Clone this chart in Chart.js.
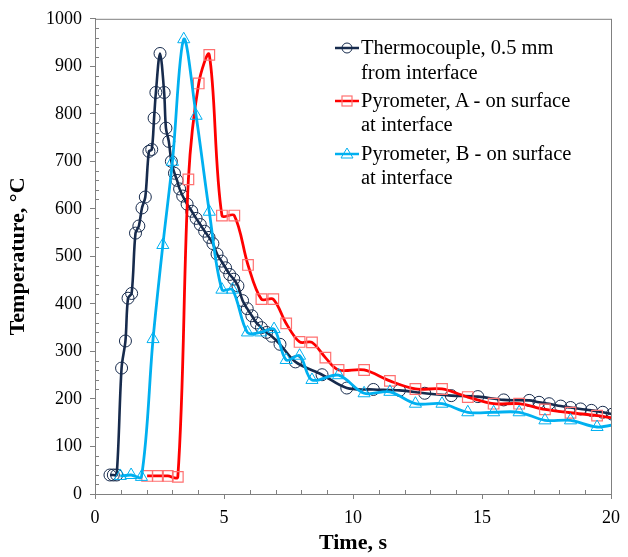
<!DOCTYPE html>
<html>
<head>
<meta charset="utf-8">
<script src="https://cdn.jsdelivr.net/npm/chart.js@4"></script>
<style>
  html, body { margin: 0; padding: 0; background: #fff; }
  #wrap { position: relative; width: 628px; height: 557px; }
  #legend {
    position: absolute; left: 335px; top: 35px;
    font-family: 'Liberation Serif', 'Times New Roman', serif;
    font-size: 20.5px; line-height: 24.5px; color: #000;
  }
  .item { display: flex; align-items: flex-start; margin-bottom: 3.8px; }
  .item svg { flex: none; }
</style>
</head>
<body>
<div id="wrap">
  <canvas id="tempChart" width="628" height="557"></canvas>
  <div id="legend">
    <div class="item">
      <svg width="26" height="24"><line x1="0" y1="13" x2="24" y2="13" stroke="#172b4d" stroke-width="2.5"/><circle cx="12" cy="13" r="5" fill="none" stroke="#172b4d" stroke-width="1"/></svg>
      <div>Thermocouple, 0.5 mm<br>from interface</div>
    </div>
    <div class="item">
      <svg width="26" height="24"><line x1="0" y1="13" x2="24" y2="13" stroke="#ff0000" stroke-width="2.5"/><rect x="7" y="8" width="10" height="10" fill="none" stroke="#ff7070" stroke-width="1.2"/></svg>
      <div>Pyrometer, A - on surface<br>at interface</div>
    </div>
    <div class="item">
      <svg width="26" height="24"><line x1="0" y1="13" x2="24" y2="13" stroke="#00b0f0" stroke-width="2.5"/><polygon points="12,7 18,17 6,17" fill="none" stroke="#00b0f0" stroke-width="1"/></svg>
      <div>Pyrometer, B - on surface<br>at interface</div>
    </div>
  </div>
</div>
<script>
// thermocouple, 0.5 mm from interface
const tcTime = [0.58, 0.71, 0.84, 1.03, 1.18, 1.28, 1.42, 1.57, 1.70, 1.82, 1.95, 2.09, 2.20, 2.29, 2.36, 2.52,
  2.68, 2.75, 2.86, 2.96, 3.08, 3.18, 3.28, 3.40, 3.57, 3.75, 3.92, 4.08, 4.25, 4.42, 4.57, 4.73, 4.90,
  5.06, 5.22, 5.38, 5.54, 5.72, 5.90, 6.08, 6.26, 6.45, 6.65, 6.85, 7.17, 7.77, 8.80, 9.76, 10.79, 11.80,
  12.78, 13.81, 14.84, 15.84, 16.83, 17.21, 17.60, 18.05, 18.43, 18.82, 19.24, 19.68, 20.05];
const tcTemp = [40, 40, 40, 265, 322, 412, 422, 549, 564, 602, 625, 721, 725, 791, 845, 927,
  845, 770, 742, 700, 675, 660, 642, 627, 610, 595, 580, 567, 553, 540, 527, 505, 490,
  476, 462, 452, 438, 407, 390, 375, 360, 350, 340, 332, 315, 278, 251, 223, 220, 218,
  212, 207, 205, 198, 197, 193, 190, 185, 182, 179, 176, 172, 168];

// pyrometer A
const pyroATime = [2.02, 2.44, 2.82, 3.21, 3.62, 4.02, 4.43, 4.92, 5.40, 5.93, 6.45, 6.91, 7.41, 7.93, 8.41,
  8.93, 9.44, 10.43, 11.43, 12.42, 13.45, 14.45, 15.45, 16.44, 17.44, 18.43, 19.46, 20.3];
const pyroATemp = [38, 38, 38, 36, 662, 864, 924, 586, 586, 482, 410, 410, 359, 320, 319,
  287, 261, 261, 238, 221, 221, 204, 190, 190, 178, 171, 165, 158];

// pyrometer B
const pyroBTime = [0.98, 1.40, 1.80, 2.25, 2.63, 3.00, 3.44, 3.92, 4.43, 4.92, 5.33, 5.91, 6.42, 6.94, 7.41,
  7.93, 8.41, 9.44, 10.43, 11.43, 12.42, 13.45, 14.45, 15.45, 16.44, 17.44, 18.43, 19.46, 20.3];
const pyroBTemp = [38, 40, 36, 326, 524, 699, 957, 796, 594, 430, 430, 340, 340, 347, 282,
  291, 240, 250, 212, 215, 190, 190, 172, 172, 172, 155, 155, 141, 148];

const xMajor = 5, xMinor = 1, yMajor = 100, yMinor = 20;
const axisGrey = '#808080';
const serif = "'Liberation Serif', 'Times New Roman', serif";

const pts = (xs, ys) => xs.map((x, i) => ({ x: x, y: ys[i] }));

// box round the plot + minor ticks pointing inward
const frameTicks = {
  id: 'frameTicks',
  afterDraw(chart) {
    const { ctx, chartArea: a, scales } = chart;
    ctx.save();
    ctx.strokeStyle = axisGrey;
    ctx.lineWidth = 1;
    ctx.strokeRect(a.left + 0.5, a.top + 0.5, a.right - a.left, a.bottom - a.top);
    ctx.beginPath();
    for (let v = xMinor; v < 20; v += xMinor) {
      if (v % xMajor === 0) continue;
      const px = Math.round(scales.x.getPixelForValue(v)) + 0.5;
      ctx.moveTo(px, a.bottom);
      ctx.lineTo(px, a.bottom - 4);
    }
    for (let v = yMinor; v < 1000; v += yMinor) {
      if (v % yMajor === 0) continue;
      const py = Math.round(scales.y.getPixelForValue(v)) + 0.5;
      ctx.moveTo(a.left, py);
      ctx.lineTo(a.left + 4, py);
    }
    ctx.stroke();
    ctx.restore();
  },
};

const config = {
  type: 'line',
  data: {
    datasets: [
      {
        label: 'Thermocouple, 0.5 mm from interface',
        data: pts(tcTime, tcTemp),
        borderColor: '#172b4d',
        borderWidth: 2.6,
        pointStyle: 'circle',
        pointRadius: 6,
        pointBorderWidth: 1,
        pointBorderColor: '#172b4d',
        pointBackgroundColor: 'rgba(0,0,0,0)',
        tension: 0.33,
        order: 3,
      },
      {
        label: 'Pyrometer, A - on surface at interface',
        data: pts(pyroATime, pyroATemp),
        borderColor: '#ff0000',
        borderWidth: 2.8,
        pointStyle: 'rect',
        pointRadius: 7.5,
        pointBorderWidth: 1.2,
        pointBorderColor: '#ff7070',
        pointBackgroundColor: 'rgba(0,0,0,0)',
        tension: 0.33,
        order: 2,
      },
      {
        label: 'Pyrometer, B - on surface at interface',
        data: pts(pyroBTime, pyroBTemp),
        borderColor: '#00b0f0',
        borderWidth: 2.8,
        pointStyle: 'triangle',
        pointRadius: 7,
        pointBorderWidth: 1,
        pointBorderColor: '#00b0f0',
        pointBackgroundColor: 'rgba(0,0,0,0)',
        tension: 0.33,
        order: 1,
      },
    ],
  },
  options: {
    responsive: false,
    animation: false,
    layout: { padding: { top: 16, right: 13, left: 0, bottom: 0 } },
    plugins: {
      legend: { display: false },
      tooltip: { enabled: false },
    },
    scales: {
      x: {
        type: 'linear',
        min: 0,
        max: 20,
        afterFit: (scale) => { scale.height = 63; },
        ticks: { stepSize: xMajor, padding: 8, color: '#000', font: { family: serif, size: 18 } },
        grid: { drawOnChartArea: false, tickLength: 5, color: axisGrey },
        border: { color: axisGrey },
        title: {
          display: true,
          text: 'Time, s',
          color: '#000',
          padding: { top: 0, bottom: 0 },
          font: { family: serif, size: 22, weight: 'bold' },
        },
      },
      y: {
        min: 0,
        max: 1000,
        afterFit: (scale) => { scale.width = 95; },
        ticks: {
          stepSize: yMajor,
          padding: 8,
          color: '#000',
          font: { family: serif, size: 18 },
          callback: (value) => String(value),
        },
        grid: { drawOnChartArea: false, tickLength: 5, color: axisGrey },
        border: { color: axisGrey },
        title: {
          display: true,
          text: 'Temperature, °C',
          color: '#000',
          padding: { top: 5, bottom: 0 },
          font: { family: serif, size: 22, weight: 'bold' },
        },
      },
    },
  },
  plugins: [frameTicks],
};

const tempChart = new Chart(document.getElementById('tempChart'), config);
</script>
</body>
</html>
